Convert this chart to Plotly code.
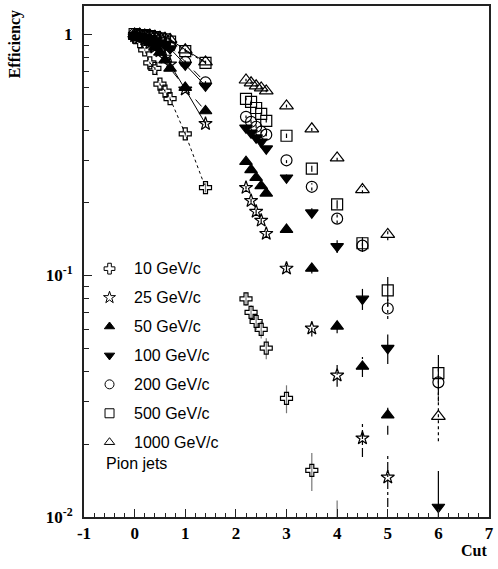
import plotly.graph_objects as go

# Cut values shared by all beam momenta
cuts = [0, 0.1, 0.2, 0.3, 0.4, 0.5, 0.6, 0.7, 1.0, 1.4,
        2.2, 2.3, 2.4, 2.5, 2.6,
        3, 3.5, 4, 4.5, 5, 6]

eff_10 = [0.97, 0.93, 0.86, 0.76, 0.72, 0.62, 0.58, 0.54, 0.386, 0.231,
          0.080, 0.0703, 0.0645, 0.0598, 0.050,
          0.031, 0.0156, 0.0085, None, None, None]
err_10 = [0.01, 0.01, 0.01, 0.01, 0.01, 0.01, 0.01, 0.01, 0.01, 0.01,
          0.005, 0.005, 0.005, 0.005, 0.005,
          0.0041, 0.0028, 0.0032, 0, 0, 0]

eff_25 = [0.98, 0.97, 0.95, 0.92, 0.88, 0.85, 0.80, 0.75, 0.59, 0.425,
          0.231, 0.204, 0.184, 0.169, 0.149,
          0.107, 0.0604, 0.0386, 0.0212, 0.0146, None]
err_25 = [0.005, 0.005, 0.005, 0.005, 0.005, 0.005, 0.005, 0.005, 0.01, 0.01,
          0.004, 0.004, 0.004, 0.004, 0.004,
          0.004, 0.0045, 0.004, 0.0035, 0.0036, 0]

eff_50 = [0.98, 0.97, 0.95, 0.92, 0.88, 0.84, 0.78, 0.72, 0.60, 0.48,
          0.296, 0.274, 0.254, 0.235, 0.219,
          0.155, 0.107, 0.0616, 0.042, 0.0264, None]
err_50 = [0.005, 0.005, 0.005, 0.005, 0.005, 0.005, 0.005, 0.005, 0.01, 0.01,
          0.005, 0.005, 0.005, 0.005, 0.005,
          0.005, 0.005, 0.004, 0.004, 0.0045, 0]

eff_100 = [0.99, 0.98, 0.97, 0.96, 0.94, 0.92, 0.90, 0.87, 0.745, 0.61,
           0.409, 0.390, 0.372, 0.358, 0.335,
           0.254, 0.182, 0.132, 0.080, 0.050, 0.011]
err_100 = [0.005, 0.005, 0.005, 0.005, 0.005, 0.005, 0.005, 0.005, 0.01, 0.01,
           0.006, 0.006, 0.006, 0.006, 0.006,
           0.008, 0.008, 0.008, 0.008, 0.007, 0.0045]

eff_200 = [1.0, 0.99, 0.98, 0.97, 0.96, 0.94, 0.92, 0.89, 0.766, 0.63,
           0.454, 0.433, 0.413, 0.394, 0.383,
           0.30, 0.233, 0.172, 0.133, 0.073, 0.0361]
err_200 = [0.005, 0.005, 0.005, 0.005, 0.005, 0.005, 0.005, 0.005, 0.01, 0.01,
           0.006, 0.006, 0.006, 0.006, 0.006,
           0.008, 0.008, 0.008, 0.008, 0.007, 0.006]

eff_500 = [1.0, 0.99, 0.99, 0.98, 0.97, 0.96, 0.95, 0.93, 0.85, 0.76,
           0.539, 0.524, 0.494, 0.467, 0.437,
           0.379, 0.277, 0.197, 0.136, 0.0867, 0.0394]
err_500 = [0.005, 0.005, 0.005, 0.005, 0.005, 0.005, 0.005, 0.005, 0.01, 0.01,
           0.007, 0.007, 0.007, 0.007, 0.007,
           0.008, 0.008, 0.008, 0.008, 0.012, 0.0075]

eff_1000 = [1.0, 1.0, 0.99, 0.99, 0.98, 0.97, 0.96, 0.95, 0.86, 0.766,
            0.645, 0.628, 0.610, 0.598, 0.581,
            0.504, 0.405, 0.307, 0.227, 0.148, 0.0261]
err_1000 = [0.005, 0.005, 0.005, 0.005, 0.005, 0.005, 0.005, 0.005, 0.01, 0.01,
            0.007, 0.007, 0.007, 0.007, 0.007,
            0.008, 0.008, 0.008, 0.008, 0.008, 0.0055]

labels = ["10 GeV/c", "25 GeV/c", "50 GeV/c", "100 GeV/c",
          "200 GeV/c", "500 GeV/c", "1000 GeV/c"]
values = [eff_10, eff_25, eff_50, eff_100, eff_200, eff_500, eff_1000]
errors = [err_10, err_25, err_50, err_100, err_200, err_500, err_1000]
symbols = ["cross-open", "star-open", "triangle-up", "triangle-down",
           "circle-open", "square-open", "triangle-up-open"]
dashes = ["dot", "solid", "dash", "solid", "dash", "dashdot", "solid"]
err_dashes = ["solid", "dashdot", "dash", "solid", "dot", "solid", "dot"]
err_colors = ["#777777", "black", "black", "black", "black", "black", "black"]
sizes = [10, 10, 11, 11, 11, 11, 12]

LINKED_MAX = 1.4  # points up to this cut are joined by a line

fig = go.Figure()

for lab, vals, errs, sym, dsh, edsh, ecol, sz in zip(
        labels, values, errors, symbols, dashes, err_dashes, err_colors, sizes):
    # error bars as vertical segments
    ex, ey = [], []
    for c, v, e in zip(cuts, vals, errs):
        if v is None or not e:
            continue
        lo = max(v - e, 1e-4)
        ex += [c, c, None]
        ey += [lo, v + e, None]
    fig.add_trace(go.Scatter(x=ex, y=ey, mode="lines", showlegend=False,
                             line=dict(color=ecol, width=1.2, dash=edsh),
                             hoverinfo="skip"))
    marker = dict(symbol=sym, size=sz, color="black",
                  line=dict(color="black", width=1.2))
    lx = [c for c, v in zip(cuts, vals) if v is not None and c <= LINKED_MAX]
    ly = [v for c, v in zip(cuts, vals) if v is not None and c <= LINKED_MAX]
    fig.add_trace(go.Scatter(x=lx, y=ly, mode="lines+markers", name=lab,
                             showlegend=False, marker=marker,
                             line=dict(color="black", width=1, dash=dsh)))
    rx = [c for c, v in zip(cuts, vals) if v is not None and c > LINKED_MAX]
    ry = [v for c, v in zip(cuts, vals) if v is not None and c > LINKED_MAX]
    fig.add_trace(go.Scatter(x=rx, y=ry, mode="markers", name=lab,
                             showlegend=False, marker=marker))

# Legend block drawn on an overlay axis in plot-fraction units
leg_x_marker = 0.063
leg_x_text = 0.118
leg_y0 = 0.486
leg_dy = 0.0566
for i, (lab, sym) in enumerate(zip(labels, symbols)):
    yy = leg_y0 - i * leg_dy
    fig.add_trace(go.Scatter(x=[leg_x_marker], y=[yy], mode="markers",
                             xaxis="x2", yaxis="y2", showlegend=False,
                             marker=dict(symbol=sym, size=9, color="black",
                                         line=dict(color="black", width=1)),
                             hoverinfo="skip"))
    fig.add_annotation(x=leg_x_text, y=yy, xref="x2", yref="y2", text=lab,
                       showarrow=False, xanchor="left", yanchor="middle",
                       font=dict(family="Liberation Sans", size=16, color="black"))
fig.add_annotation(x=0.05, y=leg_y0 - 6 * leg_dy - 0.042, xref="x2", yref="y2",
                   text="Pion jets", showarrow=False, xanchor="left",
                   yanchor="middle",
                   font=dict(family="Liberation Sans", size=16, color="black"))

title_font = dict(family="Liberation Serif", size=16, color="black")
tick_font = dict(family="Liberation Serif", size=17, color="black")

fig.add_annotation(x=-0.171, y=0.995, xref="paper", yref="paper",
                   text="<b>Efficiency</b>", textangle=-90, showarrow=False,
                   xanchor="center", yanchor="top", font=title_font)
fig.add_annotation(x=1.0, y=-0.066, xref="paper", yref="paper",
                   text="<b>Cut</b>", showarrow=False,
                   xanchor="right", yanchor="middle", font=title_font)

x_ticks = [-1, 0, 1, 2, 3, 4, 5, 6, 7]
y_ticks = [0.01, 0.1, 1]
y_ticktext = ["<b>10<sup>-2</sup></b>", "<b>10<sup>-1</sup></b>", "<b>1</b>"]
y_minor = [0.02, 0.03, 0.04, 0.05, 0.06, 0.07, 0.08, 0.09,
           0.2, 0.3, 0.4, 0.5, 0.6, 0.7, 0.8, 0.9]

fig.update_layout(
    width=498, height=569,
    margin=dict(l=84, r=4, t=5, b=52),
    paper_bgcolor="white", plot_bgcolor="white",
    showlegend=False,
    xaxis=dict(range=[-1, 7], tickmode="array", tickvals=x_ticks,
               ticktext=["<b>%d</b>" % t for t in x_ticks],
               ticks="inside", ticklen=8, tickwidth=1.2, tickcolor="#222",
               minor=dict(dtick=0.2, ticks="inside", ticklen=4,
                          tickwidth=1, tickcolor="#222"),
               showline=True, linewidth=2, linecolor="#222", mirror=True,
               showgrid=False, zeroline=False, tickfont=tick_font,
               ticklabelstandoff=0),
    yaxis=dict(type="log", range=[-2, 0.116], tickmode="array",
               tickvals=y_ticks, ticktext=y_ticktext,
               ticks="inside", ticklen=8, tickwidth=1.2, tickcolor="#222",
               minor=dict(tickmode="array", tickvals=y_minor, ticks="inside",
                          ticklen=5, tickwidth=1, tickcolor="#222"),
               showline=True, linewidth=2, linecolor="#222", mirror=True,
               showgrid=False, zeroline=False, tickfont=tick_font,
               ticklabelstandoff=6),
    xaxis2=dict(overlaying="x", range=[0, 1], visible=False),
    yaxis2=dict(overlaying="y", range=[0, 1], visible=False),
)

fig.write_html("out.html")
